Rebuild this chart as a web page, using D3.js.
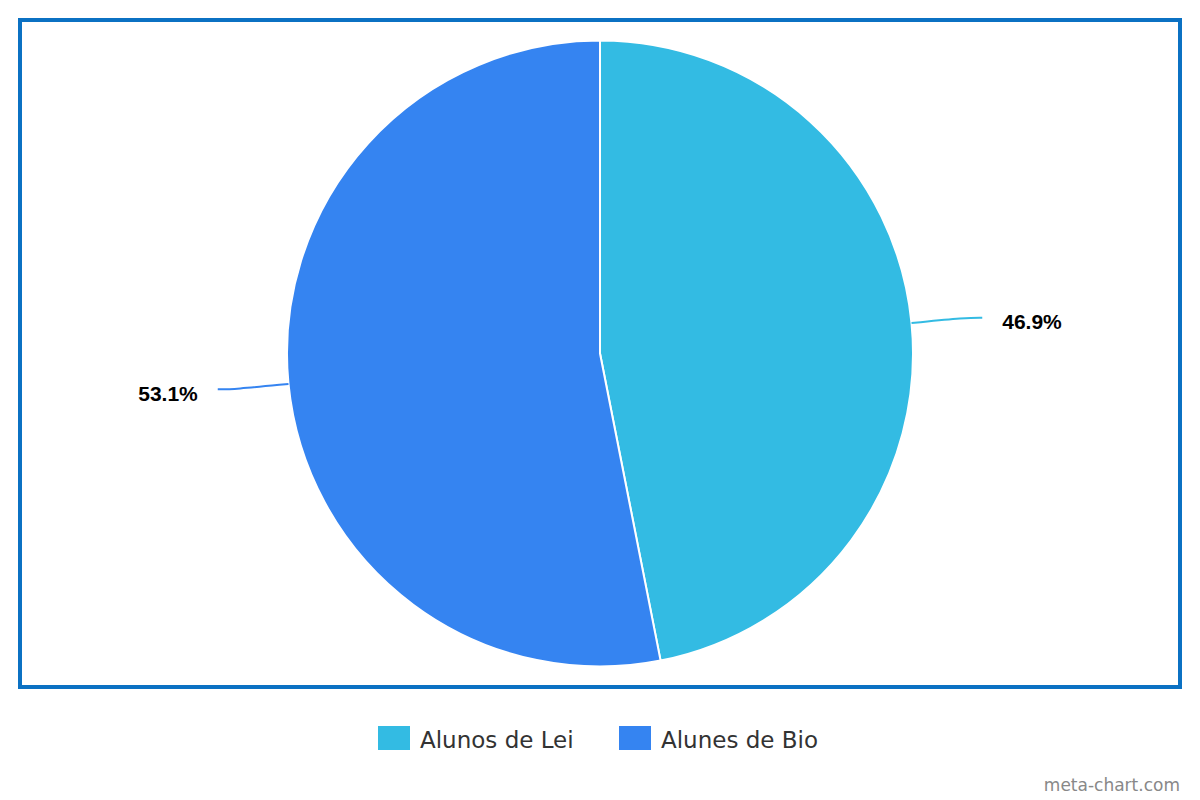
<!DOCTYPE html>
<html>
<head>
<meta charset="utf-8">
<script src="https://cdn.jsdelivr.net/npm/d3@7"></script>
<style>
  body { margin: 0; background: #fff; }
  svg { display: block; }
</style>
</head>
<body>
<svg width="1200" height="800"></svg>
<script>
// données
const categories = ['Alunos de Lei', 'Alunes de Bio'];
const values = [46.9, 53.1];
const colors = ['#33bbe3', '#3584f1'];

const svg = d3.select('svg');
const WIDTH = +svg.attr('width');
const HEIGHT = +svg.attr('height');

// cadre
svg.append('rect')
  .attr('x', 20)
  .attr('y', 20)
  .attr('width', 1160)
  .attr('height', 667)
  .attr('fill', 'none')
  .attr('stroke', '#0b71c3')
  .attr('stroke-width', 4);

const cx = 600, cy = 353.5, radius = 313;
const g = svg.append('g').attr('transform', `translate(${cx},${cy})`);

const pie = d3.pie().sort(null).value(d => d);
const arcs = pie(values);

const arc = d3.arc().innerRadius(0).outerRadius(radius);

g.selectAll('path.slice')
  .data(arcs)
  .enter()
  .append('path')
  .attr('class', 'slice')
  .attr('d', arc)
  .attr('fill', (d, i) => colors[i])
  .attr('stroke', '#fff')
  .attr('stroke-width', 2)
  .attr('stroke-linejoin', 'round');

// connecteurs + étiquettes
const polar = (a, r) => [r * Math.sin(a), -r * Math.cos(a)];
const connector = d3.line().curve(d3.curveBasis);

arcs.forEach((d, i) => {
  const mid = (d.startAngle + d.endAngle) / 2;
  const right = Math.sin(mid) > 0;
  const p0 = polar(mid, radius);
  const p1 = polar(mid, radius + 55);
  const p2 = [p1[0] + (right ? 16 : -16), p1[1]];
  g.append('path')
    .attr('d', connector([p0, p0, p1, p2, p2]))
    .attr('fill', 'none')
    .attr('stroke', colors[i])
    .attr('stroke-width', 2);
  g.append('text')
    .attr('x', p2[0] + (right ? 20 : -20))
    .attr('y', p2[1] + 11.5)
    .attr('text-anchor', right ? 'start' : 'end')
    .style('font-family', '"Liberation Sans", Arial, sans-serif')
    .style('font-weight', 'bold')
    .style('font-size', '21px')
    .attr('fill', '#000')
    .text(d3.format('.1f')(values[i]) + '%');
});

// légende
const legend = svg.append('g');
const legendX = [378, 619];
categories.forEach((c, i) => {
  legend.append('rect')
    .attr('x', legendX[i])
    .attr('y', 726)
    .attr('width', 32)
    .attr('height', 24)
    .attr('fill', colors[i]);
  legend.append('text')
    .attr('x', legendX[i] + 42)
    .attr('y', 748)
    .style('font-family', '"DejaVu Sans", Verdana, sans-serif')
    .style('font-size', '23px')
    .attr('fill', '#333')
    .text(c);
});

// crédit
svg.append('text')
  .attr('x', 1180)
  .attr('y', 791)
  .attr('text-anchor', 'end')
  .style('font-family', '"DejaVu Sans", Verdana, sans-serif')
  .style('font-size', '17px')
  .attr('fill', '#888')
  .text('meta-chart.com');
</script>
</body>
</html>
